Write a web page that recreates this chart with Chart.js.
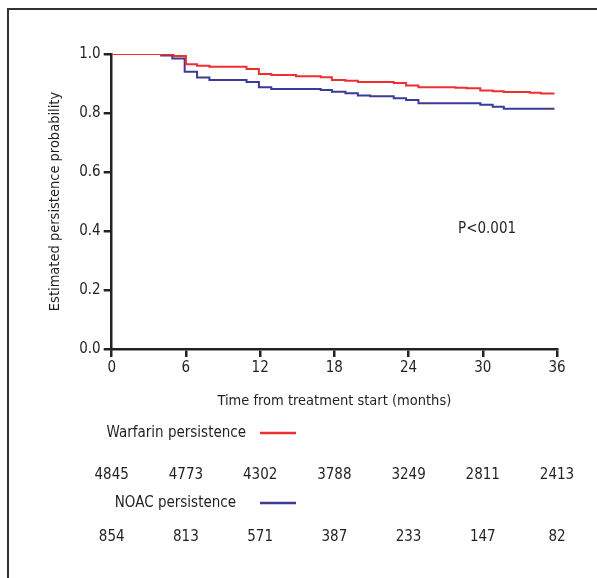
<!DOCTYPE html>
<html>
<head>
<meta charset="utf-8">
<script src="https://cdn.jsdelivr.net/npm/chart.js@4"></script>
<style>
  html, body { margin: 0; padding: 0; background: #fff; }
  #wrap { width: 597px; height: 578px; }
</style>
</head>
<body>
<div id="wrap"><canvas id="km"></canvas></div>
<script>
const months = [0, 6, 12, 18, 24, 30, 36];

const warfarinTimes = [0, 4.0, 5.0, 6.0, 6.9, 7.9, 10.9, 11.9, 12.9, 14.9, 16.9, 17.8, 18.9, 19.9, 22.8, 23.8, 24.8, 27.8, 28.7, 29.8, 30.8, 31.7, 33.8, 34.7, 35.8];
const warfarinSurv = [1.0, 0.998, 0.993, 0.965, 0.960, 0.957, 0.949, 0.932, 0.929, 0.925, 0.921, 0.912, 0.909, 0.905, 0.902, 0.893, 0.887, 0.886, 0.884, 0.876, 0.874, 0.871, 0.869, 0.866, 0.866];

const noacTimes = [0, 4.0, 4.9, 5.9, 6.9, 7.9, 10.9, 11.9, 12.9, 16.9, 17.8, 18.9, 19.9, 20.9, 22.8, 23.8, 24.8, 29.8, 30.8, 31.7, 35.8];
const noacSurv = [1.0, 0.995, 0.985, 0.940, 0.920, 0.912, 0.905, 0.887, 0.881, 0.878, 0.872, 0.867, 0.859, 0.857, 0.850, 0.844, 0.833, 0.828, 0.821, 0.814, 0.814];

const warfarinAtRisk = [4845, 4773, 4302, 3788, 3249, 2811, 2413];
const noacAtRisk = [854, 813, 571, 387, 233, 147, 82];

const FONT = "'Liberation Sans Narrow', 'DejaVu Sans Condensed', sans-serif";
const INK = "#231f20";
const RED = "#ee2f2f";
const BLUE = "#3b3b98";

function toPoints(xs, ys) {
  return xs.map((x, i) => ({ x: x, y: ys[i] }));
}

// frame, p-value, legend and numbers-at-risk table
const extras = {
  id: "extras",
  beforeDraw(chart) {
    const ctx = chart.ctx;
    ctx.save();
    ctx.fillStyle = "#fff";
    ctx.fillRect(0, 0, chart.width, chart.height);
    ctx.strokeStyle = "#333";
    ctx.lineWidth = 2;
    ctx.beginPath();
    ctx.moveTo(8, chart.height);
    ctx.lineTo(8, 9);
    ctx.lineTo(chart.width, 9);
    ctx.stroke();
    ctx.restore();
  },
  afterDraw(chart) {
    const ctx = chart.ctx;
    const xs = chart.scales.x;
    ctx.save();
    ctx.fillStyle = INK;
    ctx.textBaseline = "middle";
    ctx.font = "15px " + FONT;

    ctx.textAlign = "left";
    ctx.fillText("P<0.001", 458, 229);

    ctx.textAlign = "right";
    ctx.fillText("Warfarin persistence", 246, 433);
    ctx.fillText("NOAC persistence", 236, 503);

    ctx.lineWidth = 2.5;
    ctx.strokeStyle = RED;
    ctx.beginPath(); ctx.moveTo(260, 433); ctx.lineTo(296, 433); ctx.stroke();
    ctx.strokeStyle = BLUE;
    ctx.beginPath(); ctx.moveTo(260, 503); ctx.lineTo(296, 503); ctx.stroke();

    ctx.textAlign = "center";
    months.forEach((m, i) => {
      const px = xs.getPixelForValue(m);
      ctx.fillText(String(warfarinAtRisk[i]), px, 475);
      ctx.fillText(String(noacAtRisk[i]), px, 537);
    });
    ctx.restore();
  }
};

new Chart(document.getElementById("km"), {
  type: "line",
  data: {
    datasets: [
      {
        label: "Warfarin persistence",
        data: toPoints(warfarinTimes, warfarinSurv),
        borderColor: RED,
        borderWidth: 2,
        stepped: "before",
        pointRadius: 0,
        fill: false,
      },
      {
        label: "NOAC persistence",
        data: toPoints(noacTimes, noacSurv),
        borderColor: BLUE,
        borderWidth: 2,
        stepped: "before",
        pointRadius: 0,
        fill: false,
      },
    ],
  },
  options: {
    responsive: true,
    maintainAspectRatio: false,
    animation: false,
    layout: {
      padding: { left: 47, top: 54, right: 40, bottom: 168 },
    },
    plugins: {
      legend: { display: false },
      tooltip: { enabled: false },
    },
    scales: {
      x: {
        type: "linear",
        min: 0,
        max: 36,
        afterFit: (scale) => { scale.height = 61; },
        border: { color: "#222", width: 2.5 },
        grid: {
          drawOnChartArea: false,
          drawTicks: true,
          tickLength: 8,
          color: "#222",
          lineWidth: 2.5,
        },
        ticks: {
          stepSize: 6,
          color: INK,
          padding: 2,
          maxRotation: 0,
          font: { family: FONT, size: 15 },
        },
        title: {
          display: true,
          text: "Time from treatment start (months)",
          color: INK,
          padding: 0,
          font: { family: FONT, size: 14.5 },
        },
      },
      y: {
        min: 0,
        max: 1,
        afterFit: (scale) => { scale.width = 64.7; },
        border: { color: "#222", width: 2.5 },
        grid: {
          drawOnChartArea: false,
          drawTicks: true,
          tickLength: 8,
          color: "#222",
          lineWidth: 2.5,
        },
        ticks: {
          stepSize: 0.2,
          color: INK,
          padding: 3,
          font: { family: FONT, size: 15 },
          callback: (value) => value.toFixed(1),
        },
        title: {
          display: true,
          text: "Estimated persistence probability",
          color: INK,
          padding: 0,
          font: { family: FONT, size: 14.5 },
        },
      },
    },
  },
  plugins: [extras],
});
</script>
</body>
</html>
